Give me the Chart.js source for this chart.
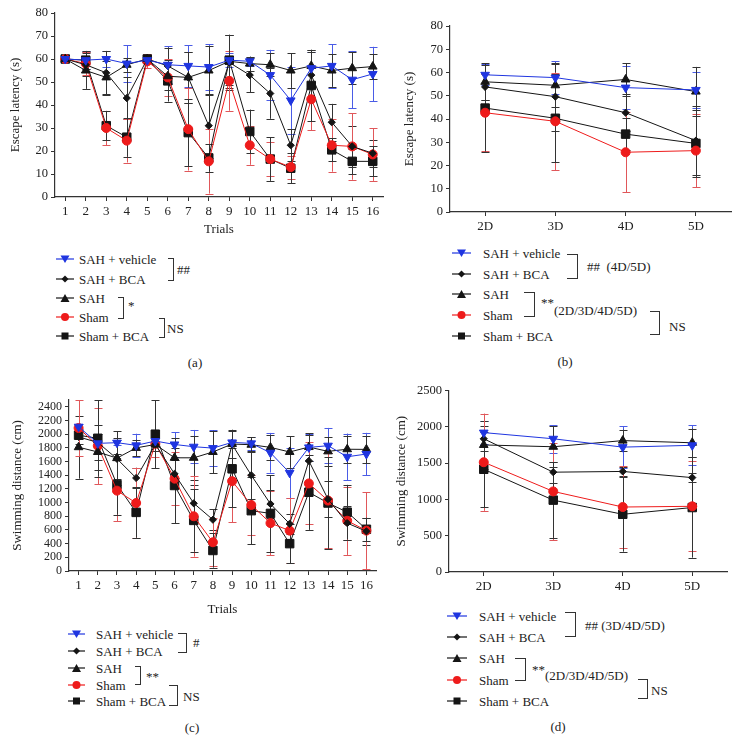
<!DOCTYPE html>
<html lang="en">
<head>
<meta charset="UTF-8">
<title>Escape latency and swimming distance</title>
<script src="https://cdn.jsdelivr.net/npm/chart.js"></script>
<style>
  body { margin: 0; background: #fff; width: 740px; height: 754px; position: relative; overflow: hidden;
         font-family: "Liberation Serif", "DejaVu Serif", serif; color: #222; }
  canvas { position: absolute; }
  .txt { position: absolute; font-size: 13px; line-height: 16px; white-space: nowrap; transform: translateY(-50%); }
  .cap { position: absolute; font-size: 13px; line-height: 16px; white-space: nowrap; transform: translate(-50%, -50%); }
  .brk { position: absolute; border: 1.3px solid #333; border-left: none; box-sizing: border-box; }
  .mk { position: absolute; transform: translateY(-50%); }
</style>
</head>
<body>
<canvas id="chartA" width="390" height="240" style="left:0;top:0"></canvas>
<canvas id="chartB" width="350" height="240" style="left:390px;top:0"></canvas>
<canvas id="chartC" width="390" height="240" style="left:0;top:380px"></canvas>
<canvas id="chartD" width="350" height="225" style="left:390px;top:380px"></canvas>

<script>
const trialLabels = ['1','2','3','4','5','6','7','8','9','10','11','12','13','14','15','16'];
const dayLabels = ['2D','3D','4D','5D'];
const groupNames = ['SAH + vehicle', 'SAH + BCA', 'SAH', 'Sham', 'Sham + BCA'];

// (a) escape latency per trial (s), mean and error
const latVehicle    = [60, 59.5, 60, 58, 59.5, 57.5, 57, 56.5, 59.5, 59, 53, 42, 56, 57, 51, 53.5];
const latVehicleErr = [0, 4, 3.5, 8, 1, 8, 9, 10, 3, 2, 11, 14.5, 7, 9.5, 12.5, 11.8];
const latBCA        = [60, 57.5, 54, 43, 60, 57, 52, 31, 58.5, 53, 45, 22.5, 53, 32.5, 22, 19];
const latBCAErr     = [0, 5, 9.5, 9, 1, 8, 11, 14, 12, 7.5, 11, 7, 10, 8, 9, 6];
const latSAH        = [60, 55, 52, 57.5, 60, 52.5, 52, 55, 59, 58, 57.5, 55, 57, 55, 56, 56.7];
const latSAHErr     = [0, 8, 7, 3, 1, 6, 11, 10.5, 11.5, 3, 5, 7.5, 7, 7, 7, 5.5];
const latSham       = [60, 58, 30, 24.5, 59, 52, 29.5, 15.5, 50.5, 22.5, 16.5, 13, 42.5, 22.5, 22, 18.5];
const latShamErr    = [0, 5, 7.5, 9.5, 3, 8, 18, 14, 13, 8.5, 7.5, 5, 13.5, 11.5, 14.5, 11.5];
const latShamBCA    = [60, 59.5, 31, 26, 60, 50.5, 28, 17, 59.5, 28.5, 16.5, 12.5, 48.5, 20.5, 15.5, 15.5];
const latShamBCAErr = [0, 4, 6.3, 8.5, 1, 9, 14.5, 6, 11, 9.5, 9.5, 6.5, 15.5, 5, 5.5, 6.5];

// (b) escape latency per day (s)
const dayLatVehicle    = [59, 57.8, 53.5, 52.5];
const dayLatVehicleErr = [4.5, 7, 9.2, 7.7];
const dayLatBCA        = [53.8, 49.6, 42.7, 30.7];
const dayLatBCAErr     = [5.5, 14.6, 8, 14.8];
const dayLatSAH        = [56, 54.5, 57, 51.8];
const dayLatSAHErr     = [8, 9.3, 7, 10.6];
const dayLatSham       = [42.7, 39, 25.7, 26.4];
const dayLatShamErr    = [16.6, 21, 17.2, 15.8];
const dayLatShamBCA    = [44.7, 40.3, 33.5, 29.5];
const dayLatShamBCAErr = [18.7, 19, 7, 14.5];

// (c) swimming distance per trial (cm)
const distVehicle    = [2110, 1866, 1876, 1837, 1900, 1850, 1817, 1797, 1880, 1866, 1729, 1435, 1807, 1832, 1670, 1710];
const distVehicleErr = [40, 20, 40, 170, 50, 180, 245, 260, 40, 90, 290, 370, 200, 260, 340, 310];
const distBCA        = [1960, 1880, 1640, 1360, 1850, 1420, 990, 750, 1850, 1400, 980, 690, 1610, 1050, 700, 580];
const distBCAErr     = [100, 250, 300, 150, 100, 200, 270, 150, 50, 350, 200, 150, 380, 260, 250, 200];
const distSAH        = [1810, 1740, 1650, 1800, 1850, 1655, 1655, 1740, 1856, 1846, 1807, 1740, 1812, 1749, 1780, 1778];
const distSAHErr     = [460, 260, 390, 120, 100, 290, 320, 310, 210, 110, 180, 230, 200, 210, 200, 200];
const distSham       = [2090, 1830, 1175, 994, 1860, 1350, 800, 420, 1313, 965, 700, 590, 1280, 1030, 735, 590];
const distShamErr    = [410, 560, 450, 510, 195, 390, 590, 350, 600, 440, 470, 475, 600, 690, 500, 560];
const distShamBCA    = [1985, 1940, 1264, 857, 2000, 1250, 740, 300, 1494, 882, 842, 400, 1151, 994, 860, 610];
const distShamBCAErr = [60, 560, 440, 370, 500, 555, 455, 250, 560, 490, 560, 290, 550, 670, 400, 170];

// (d) swimming distance per day (cm)
const dayDistVehicle    = [1920, 1835, 1720, 1745];
const dayDistVehicleErr = [160, 190, 290, 275];
const dayDistBCA        = [1835, 1375, 1385, 1300];
const dayDistBCAErr     = [170, 145, 60, 60];
const dayDistSAH        = [1750, 1725, 1810, 1780];
const dayDistSAHErr     = [330, 280, 150, 195];
const dayDistSham       = [1512, 1110, 895, 905];
const dayDistShamErr    = [670, 670, 565, 620];
const dayDistShamBCA    = [1415, 990, 795, 888];
const dayDistShamBCAErr = [520, 520, 515, 690];

Chart.defaults.font.family = '"Liberation Serif", "DejaVu Serif", serif';
Chart.defaults.color = '#222';

const groupStyles = [
  { line: '#1f35e0', err: '#4a5ce6', shape: 'triangle', rot: 180, r: 5 },
  { line: '#151515', err: '#333333', shape: 'rectRot', rot: 0, r: 3.6 },
  { line: '#151515', err: '#333333', shape: 'triangle', rot: 0, r: 5 },
  { line: '#ee1b1b', err: '#e0575a', shape: 'circle', rot: 0, r: 4.5 },
  { line: '#151515', err: '#333333', shape: 'rect', rot: 0, r: 6 }
];

// draws mean +/- error whiskers with caps, using the chart's own y scale
const errorBars = {
  id: 'errorBars',
  beforeDatasetsDraw(chart) {
    const ctx = chart.ctx;
    const y = chart.scales.y;
    chart.data.datasets.forEach((ds, i) => {
      const meta = chart.getDatasetMeta(i);
      ctx.save();
      ctx.strokeStyle = ds.errColor;
      ctx.lineWidth = 1;
      meta.data.forEach((pt, j) => {
        const e = ds.errors[j];
        if (!e) return;
        const v = ds.data[j];
        const top = y.getPixelForValue(v + e);
        const bot = y.getPixelForValue(v - e);
        const x = Math.round(pt.x) + 0.5;
        ctx.beginPath();
        ctx.moveTo(x, top); ctx.lineTo(x, bot);
        ctx.moveTo(x - 4, Math.round(top) + 0.5); ctx.lineTo(x + 4, Math.round(top) + 0.5);
        ctx.moveTo(x - 4, Math.round(bot) + 0.5); ctx.lineTo(x + 4, Math.round(bot) + 0.5);
        ctx.stroke();
      });
      ctx.restore();
    });
  }
};

function buildChart(id, labels, series, errors, yOpt, box) {
  const datasets = series.map((vals, i) => {
    const s = groupStyles[i];
    return {
      label: groupNames[i],
      data: vals,
      errors: errors[i],
      errColor: s.err,
      borderColor: s.line,
      backgroundColor: s.line,
      borderWidth: 1,
      pointStyle: s.shape,
      pointRotation: s.rot,
      pointRadius: s.r,
      pointBorderWidth: 1,
      tension: 0
    };
  });
  const axisLine = { color: '#333', width: 1.2 };
  const grid = { drawOnChartArea: false, drawTicks: true, tickLength: 4, color: '#333', offset: false };
  new Chart(document.getElementById(id), {
    type: 'line',
    data: { labels: labels, datasets: datasets },
    options: {
      responsive: false,
      animation: false,
      layout: { padding: box.pad },
      plugins: { legend: { display: false }, tooltip: { enabled: false } },
      scales: {
        x: {
          type: 'category',
          offset: true,
          grid: grid,
          border: axisLine,
          ticks: { font: { size: 13 }, color: '#222', padding: 3, maxRotation: 0, autoSkip: false },
          title: box.xTitle ? { display: true, text: box.xTitle, font: { size: 13 }, color: '#222', padding: { top: 0, bottom: 3 } } : { display: false },
          afterFit(s) { s.height = box.xh; }
        },
        y: {
          min: yOpt.min,
          max: yOpt.max,
          grid: grid,
          border: axisLine,
          ticks: {
            stepSize: yOpt.step, includeBounds: false, autoSkip: false,
            font: { size: yOpt.tickSize }, color: '#222', padding: 3,
            callback: v => String(v)
          },
          title: { display: true, text: yOpt.title, font: { size: 13 }, color: '#222', padding: { top: box.tpad, bottom: 0 } },
          afterFit(s) { s.width = box.yw; }
        }
      }
    },
    plugins: [errorBars]
  });
}

buildChart('chartA', trialLabels,
  [latVehicle, latBCA, latSAH, latSham, latShamBCA],
  [latVehicleErr, latBCAErr, latSAHErr, latShamErr, latShamBCAErr],
  { min: 0, max: 80, step: 10, tickSize: 12.5, title: 'Escape latency (s)' },
  { pad: { left: 0, top: 13, right: 4, bottom: 0 }, yw: 55, xh: 43, tpad: 8, xTitle: 'Trials' });

buildChart('chartB', dayLabels,
  [dayLatVehicle, dayLatBCA, dayLatSAH, dayLatSham, dayLatShamBCA],
  [dayLatVehicleErr, dayLatBCAErr, dayLatSAHErr, dayLatShamErr, dayLatShamBCAErr],
  { min: 0, max: 80, step: 10, tickSize: 12.5, title: 'Escape latency (s)' },
  { pad: { left: 0, top: 26, right: 9, bottom: 0 }, yw: 60, xh: 28, tpad: 12 });

buildChart('chartC', trialLabels,
  [distVehicle, distBCA, distSAH, distSham, distShamBCA],
  [distVehicleErr, distBCAErr, distSAHErr, distShamErr, distShamBCAErr],
  { min: 0, max: 2500, step: 200, tickSize: 12, title: 'Swimming distance (cm)' },
  { pad: { left: 0, top: 20, right: 14, bottom: 0 }, yw: 69, xh: 49, tpad: 10, xTitle: 'Trials' });

buildChart('chartD', dayLabels,
  [dayDistVehicle, dayDistBCA, dayDistSAH, dayDistSham, dayDistShamBCA],
  [dayDistVehicleErr, dayDistBCAErr, dayDistSAHErr, dayDistShamErr, dayDistShamBCAErr],
  { min: 0, max: 2500, step: 500, tickSize: 12.5, title: 'Swimming distance (cm)' },
  { pad: { left: 0, top: 6, right: 13, bottom: 0 }, yw: 59, xh: 33, tpad: 4 });

// legend markers as small svgs
function markerSvg(style, w) {
  const c = w / 2;
  let shape = '';
  if (style.shape === 'triangle' && style.rot === 180) {
    shape = `<polygon points="${c - 4.5},2.5 ${c + 4.5},2.5 ${c},10" fill="${style.line}"/>`;
  } else if (style.shape === 'triangle') {
    shape = `<polygon points="${c - 4.5},10 ${c + 4.5},10 ${c},2" fill="${style.line}"/>`;
  } else if (style.shape === 'rectRot') {
    shape = `<polygon points="${c},2.5 ${c + 3.5},6 ${c},9.5 ${c - 3.5},6" fill="${style.line}"/>`;
  } else if (style.shape === 'circle') {
    shape = `<circle cx="${c}" cy="6" r="4" fill="${style.line}"/>`;
  } else {
    shape = `<rect x="${c - 3.5}" y="2.5" width="7" height="7" fill="${style.line}"/>`;
  }
  return `<svg width="${w}" height="12" xmlns="http://www.w3.org/2000/svg">` +
    `<line x1="0" y1="6" x2="${w}" y2="6" stroke="${style.line}" stroke-width="1.2"/>${shape}</svg>`;
}

function addLegend(cfg) {
  const body = document.body;
  cfg.rows.forEach((y, i) => {
    const m = document.createElement('div');
    m.className = 'mk';
    m.style.left = cfg.lineX + 'px';
    m.style.top = y + 'px';
    m.innerHTML = markerSvg(groupStyles[i], cfg.lineW);
    body.appendChild(m);
    const t = document.createElement('div');
    t.className = 'txt';
    t.style.left = cfg.textX + 'px';
    t.style.top = y + 'px';
    t.textContent = groupNames[i];
    body.appendChild(t);
  });
  cfg.brackets.forEach(b => {
    const d = document.createElement('div');
    d.className = 'brk';
    d.style.left = b[0] + 'px';
    d.style.top = b[1] + 'px';
    d.style.width = b[2] + 'px';
    d.style.height = b[3] + 'px';
    body.appendChild(d);
  });
  cfg.notes.forEach(n => {
    const t = document.createElement('div');
    t.className = 'txt';
    t.style.left = n[0] + 'px';
    t.style.top = n[1] + 'px';
    t.textContent = n[2];
    body.appendChild(t);
  });
  const c = document.createElement('div');
  c.className = 'cap';
  c.style.left = cfg.caption[0] + 'px';
  c.style.top = cfg.caption[1] + 'px';
  c.textContent = cfg.caption[2];
  body.appendChild(c);
}

addLegend({
  lineX: 56, lineW: 18, textX: 79, rows: [260, 280, 299, 318, 337],
  brackets: [[168, 258, 6, 23], [118, 297, 6, 22], [159, 318, 6, 20]],
  notes: [[177, 270, '##'], [128, 306, '*'], [167, 329, 'NS']],
  caption: [195, 363, '(a)']
});
addLegend({
  lineX: 452, lineW: 19, textX: 483, rows: [254, 275, 295, 316, 337],
  brackets: [[567, 254, 11, 25], [524, 292, 11, 25], [650, 311, 10, 24]],
  notes: [[587, 267, '##\u00a0\u00a0(4D/5D)'], [541, 303, '**'], [554, 311, '(2D/3D/4D/5D)'], [669, 327, 'NS']],
  caption: [565, 362, '(b)']
});
addLegend({
  lineX: 68, lineW: 17, textX: 96, rows: [635, 652, 669, 686, 702],
  brackets: [[178, 633, 9, 20], [135, 666, 6, 19], [169, 685, 9, 21]],
  notes: [[193, 643, '#'], [146, 677, '**'], [183, 697, 'NS']],
  caption: [192, 728, '(c)']
});
addLegend({
  lineX: 447, lineW: 20, textX: 479, rows: [617, 638, 659, 681, 702],
  brackets: [[565, 612, 11, 25], [515, 658, 11, 23], [638, 679, 10, 20]],
  notes: [[585, 626, '##\u00a0(3D/4D/5D)'], [532, 670, '**'], [545, 676, '(2D/3D/4D/5D)'], [651, 691, 'NS']],
  caption: [558, 727, '(d)']
});
</script>
</body>
</html>
